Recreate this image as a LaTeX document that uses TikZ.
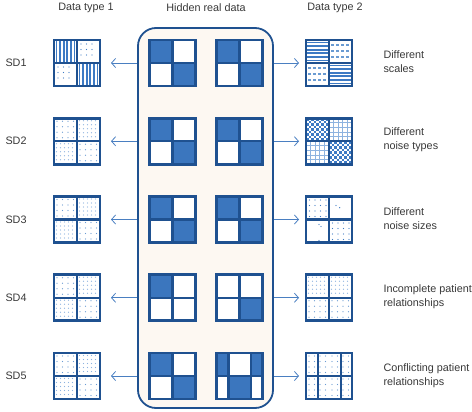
\documentclass[tikz,border=0pt]{standalone}
\usepackage{fontspec}
\setmainfont{Liberation Sans}
\usetikzlibrary{arrows.meta,calc}

\definecolor{frameblue}{HTML}{1F5190}
\definecolor{cellblue}{HTML}{3B76BE}
\definecolor{patblue}{HTML}{3D7AC4}
\definecolor{dotblue}{HTML}{6A9BD2}
\definecolor{gridblue}{HTML}{8DB3E0}
\definecolor{arrowblue}{HTML}{4A7FC1}
\definecolor{boxcream}{HTML}{FDF8F2}
\definecolor{textgray}{HTML}{383838}

% fillings of one quadrant whose top left corner is (#1,#2)
\newcommand\vlines[2]{\foreach \k in {2.5,6.1,...,21} {\draw[patline] (#1+\k,#2+1) -- (#1+\k,#2+22);}}
\newcommand\hlines[2]{\foreach \k in {2.5,6.1,...,21} {\draw[patline] (#1+1,#2+\k) -- (#1+22,#2+\k);}}
\newcommand\dashrows[2]{\foreach \k in {5,11,17} {\draw[dashrow] (#1+2,#2+\k) -- (#1+22,#2+\k);}}
\newcommand\dotgrid[4]{\foreach \u in {#3} {\foreach \v in {#3} {\fill[#4] (#1+\u,#2+\v) circle (0.6);}}}
\newcommand\checker[2]{\foreach \j in {0,...,8} {%
  \pgfmathsetmacro\chkshift{mod(\j,2)*2.5}
  \draw[checkrow] (#1+\chkshift,#2+1.25+\j*2.5) -- (#1+23,#2+1.25+\j*2.5);}}
\newcommand\gridcell[2]{\foreach \k in {4.6,9.2,...,20} {\draw[gridline] (#1+\k,#2) -- (#1+\k,#2+23) (#1,#2+\k) -- (#1+23,#2+\k);}}
% frames
\newcommand\matframe[1]{%
  \draw[divider] (#1.north) -- (#1.south) (#1.west) -- (#1.east);
  \draw[frame] (#1.north west) rectangle (#1.south east);}
\newcommand\matframethree[1]{%
  \draw[divider] ($(#1.north west)!0.26!(#1.north east)$) -- ($(#1.south west)!0.26!(#1.south east)$)
    ($(#1.north west)!0.755!(#1.north east)$) -- ($(#1.south west)!0.755!(#1.south east)$)
    (#1.west) -- (#1.east);
  \draw[frame] (#1.north west) rectangle (#1.south east);}

\begin{document}
\begin{tikzpicture}[
    x=1pt, y=-1pt,
    every node/.style={font=\fontsize{10.8}{14}\selectfont, text=textgray},
    mat/.style={minimum size=46pt, inner sep=0pt, outer sep=0pt, fill=white},
    frame/.style={draw=frameblue, line width=2.8pt},
    divider/.style={draw=frameblue, line width=2.2pt},
    patline/.style={draw=patblue, line width=1.9pt},
    dashrow/.style={draw=dotblue, line width=1.5pt, dash pattern=on 3pt off 2pt},
    checkrow/.style={draw=patblue, line width=2.5pt, dash pattern=on 2.5pt off 2.5pt},
    gridline/.style={draw=gridblue, line width=0.9pt},
    arrl/.style={draw=arrowblue, line width=0.8pt, -{Straight Barb[length=4pt,width=9pt]}, shorten >=11pt},
    arrr/.style={draw=arrowblue, line width=0.8pt, -{Straight Barb[length=4pt,width=9pt]}, shorten >=7pt},
    note/.style={anchor=west, align=left}
  ]
  \useasboundingbox (0,0) rectangle (472,412);

  % column titles
  \node (title1) at (86,8) {Data type 1};
  \node (title2) at (206,8) {Hidden real data};
  \node (title3) at (335,8) {Data type 2};

  % box around the hidden data
  \node[draw=frameblue, line width=1.8pt, fill=boxcream, rounded corners=18pt,
        minimum width=135pt, minimum height=380pt, inner sep=0pt] (hidden) at (205.5,218) {};

  % matrices of every row
  \foreach \r/\y in {1/63,2/141.25,3/219.5,4/297.75,5/376} {
    \node[anchor=west] (sd\r) at (2,\y) {SD\r};
    \node[mat] (l\r) at (77,\y) {};
    \node[mat] (ha\r) at (172.5,\y) {};
    \node[mat] (hb\r) at (239.5,\y) {};
    \node[mat] (r\r) at (329,\y) {};
  }

  % hidden real data
  \foreach \n in {ha1,hb1,ha2,hb2,ha3,hb3,ha5} {
    \fill[cellblue] (\n.north west) rectangle (\n.center) (\n.center) rectangle (\n.south east);
  }
  \fill[cellblue] (ha4.north west) rectangle (ha4.center);
  \fill[cellblue] (hb4.center) rectangle (hb4.south east);
  \begin{scope}[shift={(hb5.center)}]
    \fill[cellblue] (-23,-23) rectangle (-11,0) (11.7,-23) rectangle (23,0) (-11,0) rectangle (11.7,23);
  \end{scope}

  % data type 1
  \begin{scope}[shift={(l1.center)}]
    \vlines{-23}{-23} \vlines{0}{0}
    \dotgrid{0}{-23}{4,9.5,...,20}{patblue} \dotgrid{-23}{0}{4,9.5,...,20}{patblue}
  \end{scope}
  \foreach \n in {l2,l3,l4,l5} {
    \begin{scope}[shift={(\n.center)}]
      \dotgrid{-23}{-23}{3,8.5,...,20}{dotblue} \dotgrid{0}{0}{3,8.5,...,20}{dotblue}
      \dotgrid{0}{-23}{2.5,6.5,...,21}{gridblue} \dotgrid{-23}{0}{2.5,6.5,...,21}{gridblue}
    \end{scope}
  }

  % data type 2
  \begin{scope}[shift={(r1.center)}]
    \hlines{-23}{-23} \hlines{0}{0} \dashrows{0}{-23} \dashrows{-23}{0}
  \end{scope}
  \begin{scope}[shift={(r2.center)}]
    \checker{-23}{-23} \checker{0}{0} \gridcell{0}{-23} \gridcell{-23}{0}
  \end{scope}
  \begin{scope}[shift={(r3.center)}]
    \dotgrid{-23}{-23}{3.5,9,...,20}{patblue} \dotgrid{0}{0}{3.5,9,...,20}{patblue}
    \fill[patblue] (7,-14) circle (0.7) (10.7,-11.8) circle (0.7)
      (-10,5) circle (0.7) (-8,7) circle (0.7) (-10,21) circle (0.7);
  \end{scope}
  \begin{scope}[shift={(r4.center)}]
    \dotgrid{-23}{-23}{2.5,6.5,...,21}{gridblue} \dotgrid{0}{-23}{2.5,6.5,...,21}{gridblue}
    \dotgrid{-23}{0}{3,8.5,...,20}{dotblue} \dotgrid{0}{0}{3,8.5,...,20}{dotblue}
  \end{scope}
  \begin{scope}[shift={(r5.center)}]
    \dotgrid{-23}{-23}{3,8.5,...,20}{dotblue} \dotgrid{0}{-23}{3,8.5,...,20}{dotblue}
    \dotgrid{-23}{0}{3,8.5,...,20}{dotblue} \dotgrid{0}{0}{3,8.5,...,20}{dotblue}
  \end{scope}

  % frames
  \foreach \n in {l1,l2,l3,l4,l5,ha1,hb1,ha2,hb2,ha3,hb3,ha4,hb4,ha5,r1,r2,r3,r4} {\matframe{\n}}
  \matframethree{hb5}
  \matframethree{r5}

  % arrows out of the hidden data
  \foreach \r in {1,...,5} {
    \draw[arrl] (hidden.west |- l\r) -- (l\r.east);
    \draw[arrr] (hidden.east |- r\r) -- (r\r.west);
  }

  % notes on the right
  \node[note] (note1) at (380,62) {Different\\scales};
  \node[note] (note2) at (380,140) {Different\\noise types};
  \node[note] (note3) at (380,219) {Different\\noise sizes};
  \node[note] (note4) at (380,297) {Incomplete patient\\relationships};
  \node[note] (note5) at (380,376) {Conflicting patient\\relationships};
\end{tikzpicture}
\end{document}
